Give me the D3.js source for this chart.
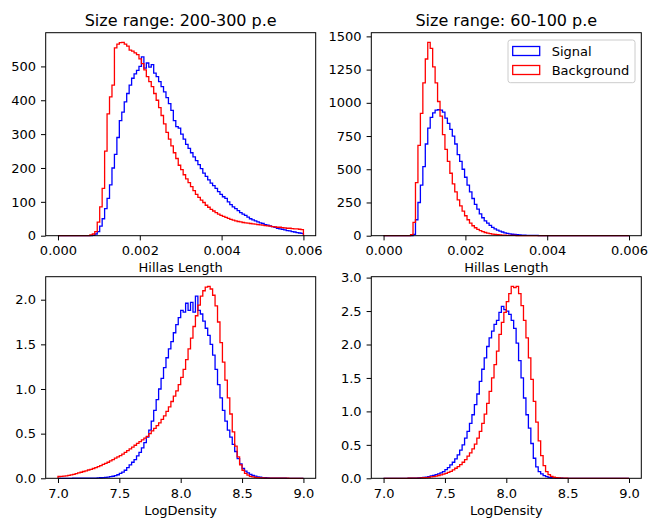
<!DOCTYPE html>
<html>
<head>
<meta charset="utf-8">
<script src="https://cdn.jsdelivr.net/npm/d3@7"></script>
<style>
  body { margin: 0; background: #fff; }
  svg { display: block; font-family: "DejaVu Sans", sans-serif; }
  .tick text { font-size: 13px; fill: #000; }
  .tick line { stroke: #000; stroke-width: 1; }
</style>
</head>
<body>
<div class="chart"></div>
<script>
// histogram ranges, 100 bins each
var lengthRange = [0, 0.006];
var densityRange = [7.0, 9.0];
var nBins = 100;

var lengthTicks = [0, 0.002, 0.004, 0.006];
var densityTicks = [7.0, 7.5, 8.0, 8.5, 9.0];
var yTicks200 = [0, 100, 200, 300, 400, 500];
var yTicks60 = [0, 250, 500, 750, 1000, 1250, 1500];
var yTicksDens200 = [0, 0.5, 1.0, 1.5, 2.0];
var yTicksDens60 = [0, 0.5, 1.0, 1.5, 2.0, 2.5, 3.0];

var titles = ["Size range: 200-300 p.e", "Size range: 60-100 p.e"];
var legendNames = ["Signal", "Background"];

// Hillas Length, size 200-300 p.e
var lengthSignal200 = [0,0,0,0,0,0,0,0,0,0,
  0,0,0,0,1,5,12,28,50,80,
  110,150,200,240,290,340,365,395,420,445,
  465,478,488,500,528,495,510,498,505,480,
  470,455,440,425,408,390,370,340,322,318,
  300,285,270,258,245,233,222,210,198,185,
  175,165,155,148,140,130,122,115,110,100,
  92,85,80,74,68,64,60,55,50,47,
  44,41,38,36,33,31,29,27,25,22,
  20,19,17,15,14,12,11,9,8,7];
var lengthBg200 = [0,0,0,0,0,0,0,0,0,0,
  0,0,0,2,5,12,40,85,140,250,
  360,410,445,555,566,570,571,566,560,548,
  545,540,535,522,508,490,470,455,440,420,
  400,378,355,330,305,285,265,245,228,208,
  195,180,168,157,145,133,122,113,105,98,
  90,84,78,73,68,64,60,57,54,51,
  48,46,44,42,41,39,38,37,36,35,
  34,33,32,31,30,29,28,27,26,25,
  25,24,23,22,22,21,20,20,19,18];

// Hillas Length, size 60-100 p.e
var lengthSignal60 = [0,0,0,0,0,0,0,0,0,0,
  0,0,10,120,250,380,520,690,810,890,
  925,945,948,945,930,885,845,800,750,690,
  610,560,500,440,380,330,280,235,200,165,
  135,112,95,78,62,52,42,34,28,22,
  18,14,11,9,7,6,5,4,3,3,
  2,2,2,1,1,1,0,0,0,0,
  0,0,0,0,0,0,0,0,0,0,
  0,0,0,0,0,0,0,0,0,0,
  0,0,0,0,0,0,0,0,0,0];
var lengthBg60 = [0,0,0,0,0,0,0,0,0,0,
  0,8,100,400,680,920,1150,1330,1455,1410,
  1270,1150,1010,900,760,650,560,470,390,330,
  270,225,185,150,120,95,75,60,48,38,
  30,24,19,15,12,9,7,6,5,4,
  3,3,2,2,1,1,0,0,0,0,
  0,0,0,0,0,0,0,0,0,0,
  0,0,0,0,0,0,0,0,0,0,
  0,0,0,0,0,0,0,0,0,0,
  0,0,0,0,0,0,0,0,0,0];

// LogDensity, size 200-300 p.e
var densSignal200 = [0,0,0,0,0,0,0.001,0.001,0.001,0.001,
  0.002,0.002,0.002,0.002,0.002,0.003,0.004,0.006,0.008,0.011,
  0.014,0.018,0.023,0.03,0.04,0.055,0.07,0.09,0.12,0.15,
  0.18,0.21,0.25,0.29,0.34,0.4,0.46,0.54,0.64,0.76,
  0.88,1.0,1.12,1.24,1.35,1.45,1.53,1.63,1.72,1.8,
  1.88,1.86,1.96,1.88,1.97,1.86,2.04,1.88,1.84,1.76,
  1.68,1.6,1.5,1.38,1.22,1.05,0.9,0.76,0.64,0.54,
  0.46,0.38,0.3,0.22,0.16,0.11,0.08,0.06,0.045,0.033,
  0.024,0.017,0.012,0.008,0.006,0.004,0.003,0.002,0.002,0.001,
  0.001,0.001,0.001,0,0,0,0,0,0,0];
var densBg200 = [0.02,0.022,0.025,0.028,0.032,0.038,0.045,0.052,0.06,0.068,
  0.076,0.084,0.093,0.1,0.11,0.12,0.13,0.142,0.155,0.168,
  0.18,0.195,0.21,0.225,0.24,0.255,0.27,0.29,0.31,0.33,
  0.35,0.37,0.39,0.41,0.43,0.45,0.47,0.5,0.53,0.56,
  0.59,0.62,0.66,0.7,0.75,0.8,0.86,0.92,0.98,1.05,
  1.13,1.22,1.33,1.45,1.57,1.7,1.82,1.94,2.04,2.1,
  2.14,2.15,2.12,2.05,1.93,1.75,1.52,1.3,1.1,0.9,
  0.72,0.52,0.36,0.24,0.15,0.09,0.055,0.035,0.022,0.015,
  0.01,0.007,0.005,0.004,0.003,0.002,0.002,0.002,0.001,0.001,
  0.001,0.001,0.001,0.001,0,0,0,0,0,0];

// LogDensity, size 60-100 p.e
var densSignal60 = [0,0,0,0,0,0,0,0,0,0,
  0.001,0.002,0.003,0.004,0.006,0.009,0.013,0.018,0.025,0.035,
  0.045,0.055,0.065,0.08,0.1,0.13,0.16,0.2,0.24,0.29,
  0.35,0.42,0.5,0.6,0.7,0.82,0.95,1.1,1.26,1.45,
  1.63,1.8,1.97,2.1,2.2,2.3,2.36,2.48,2.57,2.52,
  2.5,2.45,2.36,2.24,2.02,1.76,1.5,1.2,0.95,0.75,
  0.52,0.3,0.17,0.1,0.065,0.04,0.024,0.014,0.008,0.005,
  0.003,0.002,0.001,0,0,0,0,0,0,0,
  0,0,0,0,0,0,0,0,0,0,
  0,0,0,0,0,0,0,0,0,0];
var densBg60 = [0,0,0,0,0,0,0,0,0,0,
  0.001,0.002,0.002,0.003,0.004,0.006,0.008,0.011,0.015,0.02,
  0.026,0.033,0.042,0.052,0.063,0.075,0.09,0.105,0.125,0.15,
  0.175,0.205,0.24,0.28,0.33,0.38,0.44,0.51,0.6,0.7,
  0.82,0.96,1.12,1.3,1.5,1.7,1.9,2.15,2.33,2.48,
  2.64,2.76,2.87,2.85,2.87,2.76,2.58,2.36,2.1,1.8,
  1.48,1.15,0.84,0.56,0.34,0.19,0.1,0.055,0.03,0.016,
  0.009,0.005,0.003,0.002,0.001,0,0,0,0,0,
  0,0,0,0,0,0,0,0,0,0,
  0,0,0,0,0,0,0,0,0,0];

var colors = ["#0000ff", "#ff0000"];

var W = 648, H = 519;
var fmt3 = d3.format(".3f"), fmt1 = d3.format(".1f"), fmt0 = d3.format("d");

var panels = [
  { box: [45.7, 32.7, 270, 203], range: lengthRange, xt: lengthTicks, xf: fmt3,
    yt: yTicks200, yf: fmt0, series: [lengthSignal200, lengthBg200], title: titles[0], xlabel: "Hillas Length" },
  { box: [371.3, 32.7, 270, 203], range: lengthRange, xt: lengthTicks, xf: fmt3,
    yt: yTicks60, yf: fmt0, series: [lengthSignal60, lengthBg60], title: titles[1], xlabel: "Hillas Length", legend: true },
  { box: [45.7, 276.7, 270, 201.6], range: densityRange, xt: densityTicks, xf: fmt1,
    yt: yTicksDens200, yf: fmt1, series: [densSignal200, densBg200], xlabel: "LogDensity" },
  { box: [371.3, 276.7, 270, 201.6], range: densityRange, xt: densityTicks, xf: fmt1,
    yt: yTicksDens60, yf: fmt1, series: [densSignal60, densBg60], xlabel: "LogDensity" }
];

var svg = d3.select(".chart").append("svg")
  .attr("width", W).attr("height", H);

panels.forEach(function (p) {
  var bx = p.box[0], by = p.box[1], bw = p.box[2], bh = p.box[3];
  var pad = (p.range[1] - p.range[0]) * 0.05;
  var x = d3.scaleLinear().domain([p.range[0] - pad, p.range[1] + pad]).range([0, bw]);
  var ymax = d3.max(p.series, function (s) { return d3.max(s); }) * 1.05;
  var y = d3.scaleLinear().domain([0, ymax]).range([bh, 0]);
  // bin edges
  var edge = d3.scaleLinear().domain([0, nBins]).range(p.range);

  var g = svg.append("g").attr("transform", "translate(" + bx + "," + by + ")");

  var line = d3.line().x(function (d) { return x(d[0]); }).y(function (d) { return y(d[1]); });

  p.series.forEach(function (s, k) {
    var pts = [[edge(0), 0]];
    s.forEach(function (v, i) {
      pts.push([edge(i), v]);
      pts.push([edge(i + 1), v]);
    });
    pts.push([edge(nBins), 0]);
    g.append("path")
      .attr("d", line(pts))
      .attr("fill", "none")
      .attr("stroke", colors[k])
      .attr("stroke-width", 1.3)
      .attr("stroke-linejoin", "miter");
  });

  // axes
  var xa = g.append("g").attr("transform", "translate(0," + bh + ")")
    .call(d3.axisBottom(x).tickValues(p.xt).tickFormat(p.xf).tickSizeOuter(0).tickSize(4.7).tickPadding(5.5));
  var ya = g.append("g")
    .call(d3.axisLeft(y).tickValues(p.yt).tickFormat(p.yf).tickSizeOuter(0).tickSize(4.7).tickPadding(5));
  xa.select(".domain").remove();
  ya.select(".domain").remove();
  svg.selectAll(".tick text").attr("font-family", "DejaVu Sans");

  g.append("rect")
    .attr("x", 0).attr("y", 0).attr("width", bw).attr("height", bh)
    .attr("fill", "none").attr("stroke", "#000").attr("stroke-width", 1);

  if (p.title) {
    g.append("text")
      .attr("x", bw / 2).attr("y", -6.5)
      .attr("text-anchor", "middle")
      .style("font-size", "16px")
      .text(p.title);
  }
  g.append("text")
    .attr("x", bw / 2).attr("y", bh + 36.8)
    .attr("text-anchor", "middle")
    .style("font-size", "13px")
    .text(p.xlabel);

  if (p.legend) {
    var lg = g.append("g").attr("transform", "translate(" + (508 - bx) + "," + (40 - by) + ")");
    lg.append("rect")
      .attr("width", 127).attr("height", 42.7)
      .attr("rx", 2.5)
      .attr("fill", "#fff").attr("fill-opacity", 0.8)
      .attr("stroke", "#cccccc").attr("stroke-width", 1);
    legendNames.forEach(function (name, k) {
      var cy = 11 + k * 19;
      lg.append("rect")
        .attr("x", 4.7).attr("y", cy - 4.5)
        .attr("width", 27).attr("height", 9)
        .attr("fill", "none").attr("stroke", colors[k]).attr("stroke-width", 1.3);
      lg.append("text")
        .attr("x", 43.7).attr("y", cy + 4.8)
        .style("font-size", "13px")
        .text(name);
    });
  }
});
</script>
</body>
</html>
